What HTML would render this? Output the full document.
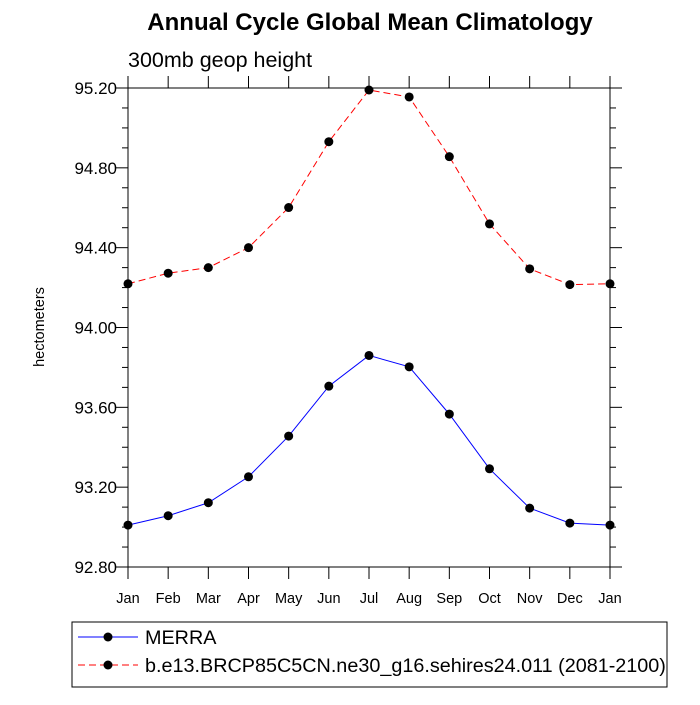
<!DOCTYPE html>
<html><head><meta charset="utf-8"><style>
html,body{margin:0;padding:0;background:#fff}
svg text{font-family:"Liberation Sans",sans-serif}
</style></head><body>
<svg id="c" width="700" height="700" xmlns="http://www.w3.org/2000/svg">
<text x="370" y="30" text-anchor="middle" font-size="24" font-weight="bold">Annual Cycle Global Mean Climatology</text>
<text x="128" y="67" font-size="21.5">300mb geop height</text>
<text transform="translate(44,327) rotate(-90)" text-anchor="middle" font-size="14.5">hectometers</text>
<g id="axes"></g>
<g id="series"></g>
<g>
<rect x="72" y="622" width="595" height="65" fill="none" stroke="#000" stroke-width="1"/>
<line x1="78" y1="637" x2="138" y2="637" stroke="#00f" stroke-width="1"/>
<circle cx="108" cy="637" r="4.5" fill="#000"/>
<text x="145" y="644" font-size="19.8">MERRA</text>
<line x1="78" y1="665" x2="138" y2="665" stroke="#f00" stroke-width="1" stroke-dasharray="7,4"/>
<circle cx="108" cy="665" r="4.5" fill="#000"/>
<text x="145" y="672" font-size="19.8">b.e13.BRCP85C5CN.ne30_g16.sehires24.011 (2081-2100)</text>
</g>
</svg>
<script>
const months = ["Jan","Feb","Mar","Apr","May","Jun","Jul","Aug","Sep","Oct","Nov","Dec","Jan"];
const merra = [93.010,93.057,93.122,93.252,93.456,93.706,93.860,93.803,93.566,93.292,93.095,93.020,93.010];
const model = [94.219,94.272,94.300,94.400,94.601,94.931,95.190,95.155,94.856,94.519,94.294,94.215,94.219];
const yTicks = [92.8,93.2,93.6,94.0,94.4,94.8,95.2];
const yTickLabels = ["92.80","93.20","93.60","94.00","94.40","94.80","95.20"];

const X0=128,X1=610,Y0=567,Y1=88,YMIN=92.8,YMAX=95.2;
const xs=i=>X0+(X1-X0)*i/(months.length-1);
const ys=v=>Y0-(v-YMIN)/(YMAX-YMIN)*(Y0-Y1);
const NS="http://www.w3.org/2000/svg";
function mk(tag,attrs,parent){const e=document.createElementNS(NS,tag);for(const k in attrs)e.setAttribute(k,attrs[k]);parent.appendChild(e);return e;}
const ax=document.getElementById('axes');
const fr=mk('rect',{x:X0,y:Y1,width:X1-X0,height:Y0-Y1,fill:'none',stroke:'#000','stroke-width':1},ax);


for(let v=YMIN;v<=YMAX+1e-6;v+=0.1){
  const major=Math.abs(((v-YMIN)/0.4)-Math.round((v-YMIN)/0.4))<1e-6;
  const y=ys(v),L=major?12:6;
  mk('line',{x1:X0-L,y1:y,x2:X0,y2:y,stroke:'#000'},ax);
  mk('line',{x1:X1,y1:y,x2:X1+L,y2:y,stroke:'#000'},ax);
}
yTicks.forEach((v,i)=>{
  const t=mk('text',{x:X0-11,y:ys(v)+6,'text-anchor':'end','font-size':17},ax);
  t.textContent=yTickLabels[i];
  
  
});
months.forEach((m,i)=>{
  const x=xs(i);
  mk('line',{x1:x,y1:Y0,x2:x,y2:Y0+12,stroke:'#000'},ax);
  mk('line',{x1:x,y1:Y1-12,x2:x,y2:Y1,stroke:'#000'},ax);
  const t=mk('text',{x:x,y:Y0+36,'text-anchor':'middle','font-size':14.5},ax);
  t.textContent=m;
  
  
});
const sg=document.getElementById('series');
function draw(vals,color,dash,name){
  const g=mk('g',{},sg);
  
  
  const p=mk('polyline',{points:vals.map((v,i)=>xs(i)+','+ys(v)).join(' '),fill:'none',stroke:color,'stroke-width':1},g);
  if(dash)p.setAttribute('stroke-dasharray',dash);
  vals.forEach((v,i)=>{
    const c=mk('circle',{cx:xs(i),cy:ys(v),r:4.5,fill:'#000'},g);
    
    
  });
}
draw(model,'#f00','7,4','series-model');
draw(merra,'#00f',null,'series-merra');
</script>
</body></html>
